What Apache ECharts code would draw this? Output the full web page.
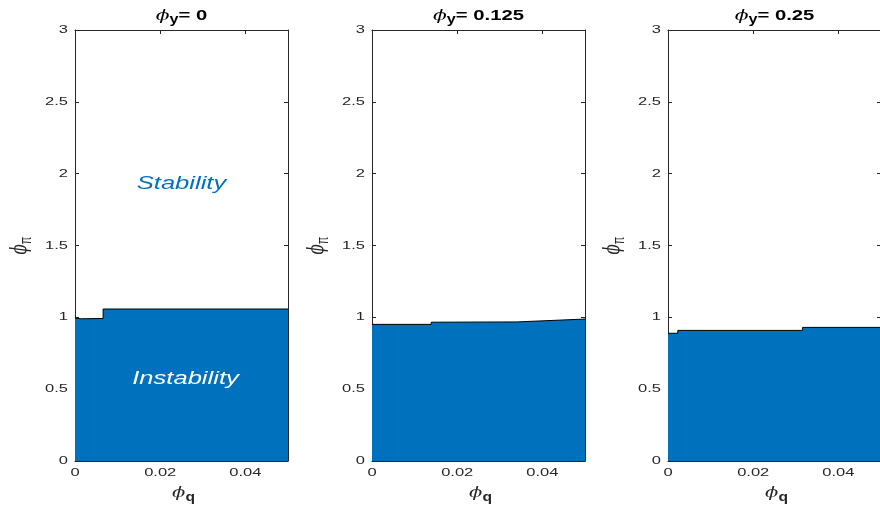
<!DOCTYPE html>
<html>
<head>
<meta charset="utf-8">
<script src="https://cdn.jsdelivr.net/npm/echarts@6/dist/echarts.min.js"></script>
<style>html,body{margin:0;padding:0;background:#fff}#c{width:880px;height:510px}</style>
</head>
<body>
<div id="c"></div>
<script>
// ---- data ----
const panelTitles = ['0', '0.125', '0.25'];
const phiQ1 = [0, 0.0015, 0.0066, 0.0066, 0.05];
const phiPi1 = [0.995, 0.99, 0.992, 1.058, 1.058];
const phiQ2 = [0, 0.0139, 0.0139, 0.034, 0.05];
const phiPi2 = [0.951, 0.951, 0.966, 0.968, 0.988];
const phiQ3 = [0, 0.0023, 0.0023, 0.0316, 0.0316, 0.05];
const phiPi3 = [0.889, 0.889, 0.909, 0.909, 0.930, 0.930];
const xTickValues = [0, 0.02, 0.04];
const xTickLabels = ['0', '0.02', '0.04'];
const yTickValues = [0, 0.5, 1, 1.5, 2, 2.5, 3];
const yTickLabels = ['0', '0.5', '1', '1.5', '2', '2.5', '3'];

const panels = [[phiQ1, phiPi1], [phiQ2, phiPi2], [phiQ3, phiPi3]];
const lefts = [75, 372, 668];
const W = 213, TOP = 30, H = 431;
const FONT = '"Liberation Sans", Helvetica, Arial, sans-serif';
const GREEK = '"DejaVu Serif", "Liberation Serif", serif';
const PHI = 'ϕ';
const AX = '#262626';
const SX = 1.5; // horizontal stretch of the text in the reference

const grids = [], xAxes = [], yAxes = [], series = [];
panels.forEach((p, i) => {
  grids.push({left: lefts[i], top: TOP, width: W, height: H, containLabel: false, outerBoundsMode: 'none'});
  const xa = {
    type: 'value', min: 0, max: 0.05, interval: 0.02,
    axisLine: {show: true, onZero: false, lineStyle: {color: AX, width: 1}},
    axisTick: {show: true, inside: true, length: 4, lineStyle: {color: AX}},
    axisLabel: {show: false},
    splitLine: {show: false}
  };
  xAxes.push(Object.assign({}, xa, {gridIndex: i, position: 'bottom'}));
  xAxes.push(Object.assign({}, xa, {gridIndex: i, position: 'top'}));
  const ya = {
    type: 'value', min: 0, max: 3, interval: 0.5,
    axisLine: {show: true, onZero: false, lineStyle: {color: AX, width: 1}},
    axisTick: {show: true, inside: true, length: 4, lineStyle: {color: AX}},
    axisLabel: {show: false},
    splitLine: {show: false}
  };
  yAxes.push(Object.assign({}, ya, {gridIndex: i, position: 'left'}));
  yAxes.push(Object.assign({}, ya, {gridIndex: i, position: 'right'}));
  series.push({
    type: 'line', xAxisIndex: 2 * i, yAxisIndex: 2 * i,
    data: p[0].map((x, k) => [x, p[1][k]]),
    symbol: 'none', silent: true,
    lineStyle: {color: '#000', width: 1},
    areaStyle: {color: '#0072BD', opacity: 1, origin: 'start'},
    z: 1
  });
});

const chart = echarts.init(document.getElementById('c'), null, {renderer: 'canvas'});
chart.setOption({
  animation: false,
  backgroundColor: '#fff',
  grid: grids,
  xAxis: xAxes,
  yAxis: yAxes,
  series: series
});

// ---- text drawn through the axes' own scales ----
const g = [];
function txt(x, y, text, style, extra) {
  g.push(Object.assign({type: 'text', x: x, y: y, scaleX: SX, z: 20, silent: true,
    style: Object.assign({text: text, font: '11px ' + FONT, fill: AX, align: 'center', verticalAlign: 'middle'}, style)}, extra || {}));
}
panels.forEach((p, i) => {
  const xi = 2 * i, yi = 2 * i;
  const y0 = chart.convertToPixel({yAxisIndex: yi}, 0);
  const y3 = chart.convertToPixel({yAxisIndex: yi}, 3);
  const xl = chart.convertToPixel({xAxisIndex: xi}, 0);
  const xr = chart.convertToPixel({xAxisIndex: xi}, 0.05);
  const xc = (xl + xr) / 2;
  xTickValues.forEach((v, k) => {
    txt(chart.convertToPixel({xAxisIndex: xi}, v), y0 + 12, xTickLabels[k], {});
  });
  yTickValues.forEach((v, k) => {
    txt(xl - 7, chart.convertToPixel({yAxisIndex: yi}, v), yTickLabels[k], {align: 'right'});
  });
  // x-axis name
  txt(xc + 2, y0 + 32, '{phi|' + PHI + '}{sub|q}', {rich: {
    phi: {font: 'italic 15px ' + GREEK, fill: AX},
    sub: {font: 'bold 12px ' + FONT, fill: AX, padding: [9, 0, 0, 0]}
  }}, {scaleX: 1.3});
  // y-axis name (rotated; stretch is along screen x => local y)
  g.push({type: 'text', x: xl - 55, y: (y0 + y3) / 2, rotation: Math.PI / 2, scaleY: SX, z: 20, silent: true,
    style: {text: '{phi|' + PHI + '}{sub|π}', align: 'center', verticalAlign: 'middle', rich: {
      phi: {font: 'italic 15px ' + GREEK, fill: AX},
      sub: {font: '11px ' + FONT, fill: AX, padding: [8, 0, 0, 0]}
    }}});
  // panel title
  txt(xc, y3 - 14, '{phi|' + PHI + '}{sub|y}{b|= ' + panelTitles[i] + '}', {rich: {
    phi: {font: 'italic 15px ' + GREEK, fill: '#000'},
    sub: {font: 'bold 12px ' + FONT, fill: '#000', padding: [8, 0, 0, 0]},
    b: {font: 'bold 15px ' + FONT, fill: '#000'}
  }}, {scaleX: 1.35});
  if (i === 0) {
    txt(xc, chart.convertToPixel({yAxisIndex: yi}, 1.93), 'Stability', {font: 'italic 18px ' + FONT, fill: '#0072BD'}, {scaleX: 1.42});
    txt(xc + 4, chart.convertToPixel({yAxisIndex: yi}, 0.57), 'Instability', {font: 'italic 18px ' + FONT, fill: '#fff'}, {scaleX: 1.42});
  }
});
chart.setOption({graphic: g});
</script>
</body>
</html>
